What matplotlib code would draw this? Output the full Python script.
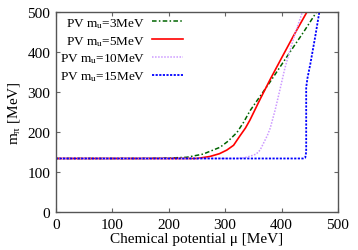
import matplotlib
matplotlib.use('Agg')
import matplotlib.pyplot as plt

plt.rcParams['font.family'] = ['Liberation Serif', 'DejaVu Serif']
plt.rcParams['mathtext.fontset'] = 'custom'
plt.rcParams['mathtext.rm'] = 'Liberation Serif'
plt.rcParams['mathtext.it'] = 'Liberation Serif'

# --- data ---
mu_3 = [0, 150, 200, 232, 261, 291, 305, 321, 333, 344, 380, 415, 440, 462]
m_3 = [134, 134, 135, 137, 145, 162, 177, 199, 225, 253, 326, 400, 452, 500]

mu_5 = [0, 200, 250, 273, 290, 303, 315, 326, 336, 344, 362, 380, 400, 421, 445]
m_5 = [134, 134, 134, 139, 146, 155, 167, 190, 210, 230, 282, 332, 385, 440, 500]

mu_10 = [0, 320, 335, 345, 355, 362, 368, 375, 380, 389, 397, 406, 415, 426, 437]
m_10 = [134, 134, 136, 140, 145, 155, 172, 192, 210, 257, 305, 360, 405, 455, 500]

mu_15 = [0, 438, 442, 443.7, 443.7, 446, 451, 460, 467]
m_15 = [134, 134, 136, 150, 312, 335, 370, 441, 500]

labels = ['PV m$_\\mathrm{u}$=3MeV', 'PV m$_\\mathrm{u}$=5MeV',
          'PV m$_\\mathrm{u}$=10MeV', 'PV m$_\\mathrm{u}$=15MeV']

fig = plt.figure(figsize=(3.58, 2.51), dpi=100)
ax = fig.add_axes([0.156, 0.151, 0.788, 0.797])

ax.plot(mu_3, m_3, color='#006400', lw=1.1, ls=(0, (3, 1.5, 1, 1.5)), label=labels[0])
ax.plot(mu_5, m_5, color='#ff0000', lw=1.2, ls='-', label=labels[1])
ax.plot(mu_10, m_10, color='#cc99ff', lw=1.1, ls=(0, (1, 1)), label=labels[2])
ax.plot(mu_15, m_15, color='#0000ff', lw=1.3, ls=(0, (1.2, 0.8)), label=labels[3])

ax.set_xlim(0, 500)
ax.set_ylim(0, 500)
ax.set_xticks([0, 100, 200, 300, 400, 500])
ax.set_yticks([0, 100, 200, 300, 400, 500])
ax.tick_params(direction='in', top=True, right=True, length=3, width=0.8,
               color='#666666', labelsize=11, pad=4)
for s in ax.spines.values():
    s.set_color('#555555')
    s.set_linewidth(1.0)

ax.set_xlabel('Chemical potential \u03bc [MeV]', fontsize=11, labelpad=1)
ax.set_ylabel('m$_\\pi$ [MeV]', fontsize=11, labelpad=4)

ax.legend(loc='upper left', markerfirst=False, frameon=False, fontsize=9.5,
          handlelength=2.3, handletextpad=0.55, labelspacing=0.3,
          borderaxespad=0.0, borderpad=0.3, bbox_to_anchor=(0.0, 1.0))

fig.savefig('out.png', dpi=100)
